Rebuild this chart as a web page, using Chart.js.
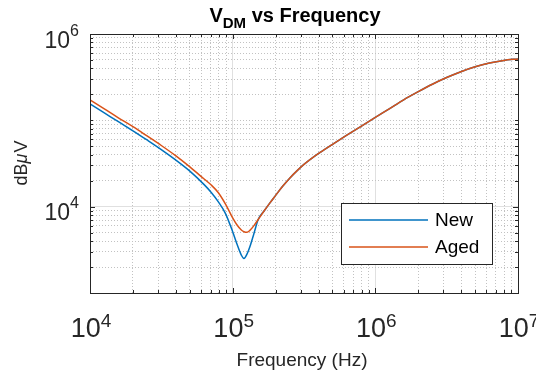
<!DOCTYPE html>
<html><head><meta charset="utf-8">
<script src="https://cdn.jsdelivr.net/npm/chart.js@4.4.1/dist/chart.umd.min.js"></script>
<style>html,body{margin:0;padding:0;background:#fff;}#wrap{width:536px;height:379px;position:relative;}</style>
</head><body><div id="wrap"><canvas id="c" width="536" height="379"></canvas></div>
<script>
// ---- data ----
const frequencies = [1e4, 1.26e4, 1.58e4, 2.0e4, 2.51e4, 3.16e4, 3.98e4, 5.01e4, 6.31e4, 7.08e4, 7.94e4, 8.91e4,
  1e5, 1.07e5, 1.15e5, 1.2e5, 1.26e5, 1.32e5, 1.41e5, 1.51e5, 1.66e5, 1.82e5, 2.0e5, 2.24e5, 2.51e5, 2.82e5, 3.16e5,
  3.98e5, 5.01e5, 6.31e5, 7.94e5, 1e6, 1.26e6, 1.58e6, 2.0e6, 2.51e6, 3.16e6, 3.98e6, 5.01e6, 6.31e6, 7.94e6, 1e7];
const newValues = [1.55e5, 1.22e5, 9.64e4, 7.57e4, 5.92e4, 4.58e4, 3.48e4, 2.58e4, 1.80e4, 1.46e4, 1.135e4, 8.32e3,
  5.13e3, 3.72e3, 2.75e3, 2.51e3, 2.82e3, 3.43e3, 4.90e3, 7.1e3, 8.91e3, 1.10e4, 1.35e4, 1.72e4, 2.14e4, 2.60e4, 3.09e4,
  4.12e4, 5.28e4, 6.73e4, 8.51e4, 1.08e5, 1.37e5, 1.73e5, 2.15e5, 2.62e5, 3.13e5, 3.66e5, 4.17e5, 4.61e5, 4.94e5, 5.15e5];
const agedValues = [1.73e5, 1.36e5, 1.07e5, 8.43e4, 6.59e4, 5.11e4, 3.90e4, 2.89e4, 2.09e4, 1.78e4, 1.45e4, 1.07e4,
  7.41e3, 6.17e3, 5.37e3, 5.13e3, 5.05e3, 5.31e3, 6.03e3, 7.1e3, 8.91e3, 1.10e4, 1.35e4, 1.72e4, 2.14e4, 2.60e4, 3.09e4,
  4.12e4, 5.28e4, 6.73e4, 8.51e4, 1.08e5, 1.37e5, 1.73e5, 2.15e5, 2.62e5, 3.13e5, 3.66e5, 4.17e5, 4.61e5, 4.94e5, 5.15e5];
const seriesNames = ['New', 'Aged'];
const xMajorTicks = [1e4, 1e5, 1e6, 1e7];
const xTickLabels = [['10','4'], ['10','5'], ['10','6'], ['10','7']];
const yMajorTicks = [1e4, 1e6];
const yTickLabels = [['10','4'], ['10','6']];
const xRange = [1e4, 1e7];
const yRange = [1e3, 1e6];
const titleParts = ['V', 'DM', ' vs Frequency'];
const xTitle = 'Frequency (Hz)';
const yTitleParts = ['dB', 'μ', 'V'];

const FONT = "'Liberation Sans', Arial, sans-serif";
const BLUE = '#0072BD', ORANGE = '#D95319', AX = '#262626';

function logPositions(lo, hi) {
  const out = [];
  for (let e = Math.round(Math.log10(lo)); e < Math.round(Math.log10(hi)); e++)
    for (let k = 1; k < 10; k++) out.push(k * Math.pow(10, e));
  out.push(hi);
  return out;
}
const near = (a, b) => Math.abs(Math.log10(a) - Math.log10(b)) < 1e-6;
const isMajor = (v, list) => list.some(t => near(v, t));

const xPositions = logPositions(xRange[0], xRange[1]);
const yPositions = logPositions(yRange[0], yRange[1]);

function gridOpts(majors) {
  return {
    color: c => (c.tick && isMajor(c.tick.value, majors)) ? '#e0e0e0' : '#c2c2c2',
    lineWidth: 1,
    drawTicks: false
  };
}
function borderOpts(majors) {
  return {
    display: false,
    dash: c => (c.tick && !isMajor(c.tick.value, majors)) ? [1, 2] : []
  };
}

function drawPow(ctx, base, exp, x, yBase, yExp, fb, fe, align) {
  ctx.font = fb; const wb = ctx.measureText(base).width;
  ctx.font = fe; const we = ctx.measureText(exp).width;
  const sx = align === 'center' ? x - (wb + we) / 2 : x - wb - we;
  ctx.textAlign = 'left'; ctx.textBaseline = 'alphabetic';
  ctx.font = fb; ctx.fillText(base, sx, yBase);
  ctx.font = fe; ctx.fillText(exp, sx + wb, yExp);
}

const decor = {
  id: 'decor',
  afterDraw(chart) {
    const {ctx, chartArea: a, scales: {x, y}} = chart;
    ctx.save();
    // box
    ctx.strokeStyle = AX; ctx.lineWidth = 1; ctx.setLineDash([]);
    ctx.strokeRect(a.left + 0.5, a.top + 0.5, a.right - a.left, a.bottom - a.top);
    // tick marks
    ctx.beginPath();
    xPositions.forEach(v => {
      const px = Math.round(x.getPixelForValue(v)) + 0.5;
      const L = isMajor(v, xMajorTicks) ? 5 : 3;
      ctx.moveTo(px, a.bottom); ctx.lineTo(px, a.bottom - L);
      ctx.moveTo(px, a.top); ctx.lineTo(px, a.top + L);
    });
    yPositions.forEach(v => {
      const py = Math.round(y.getPixelForValue(v)) + 0.5;
      const L = isMajor(v, yMajorTicks) ? 5 : 3;
      ctx.moveTo(a.left, py); ctx.lineTo(a.left + L, py);
      ctx.moveTo(a.right, py); ctx.lineTo(a.right - L, py);
    });
    ctx.stroke();
    // tick labels
    ctx.fillStyle = AX;
    xMajorTicks.forEach((v, i) => {
      const px = x.getPixelForValue(v);
      drawPow(ctx, xTickLabels[i][0], xTickLabels[i][1], px + 1, a.bottom + 44, a.bottom + 34,
        '27px ' + FONT, '19px ' + FONT, 'center');
    });
    yMajorTicks.forEach((v, i) => {
      const py = y.getPixelForValue(v);
      drawPow(ctx, yTickLabels[i][0], yTickLabels[i][1], a.left - 11, py + 13.5, py + 1.5,
        '23px ' + FONT, '16px ' + FONT, 'right');
    });
    // axis titles
    ctx.font = '19px ' + FONT; ctx.textAlign = 'center'; ctx.textBaseline = 'alphabetic';
    ctx.fillText(xTitle, 302, 366);
    ctx.save();
    ctx.translate(27, (a.top + a.bottom) / 2);
    ctx.rotate(-Math.PI / 2);
    const fN = '18px ' + FONT, fI = 'italic 18px ' + FONT;
    ctx.font = fN; const ya = ctx.measureText(yTitleParts[0]).width, yc = ctx.measureText(yTitleParts[2]).width;
    ctx.font = fI; const yb = ctx.measureText(yTitleParts[1]).width;
    const sx = -(ya + yb + yc) / 2;
    ctx.textAlign = 'left';
    ctx.font = fN; ctx.fillText(yTitleParts[0], sx, 0);
    ctx.font = fI; ctx.fillText(yTitleParts[1], sx + ya, 0);
    ctx.font = fN; ctx.fillText(yTitleParts[2], sx + ya + yb + 1, 0);
    ctx.restore();
    // title
    ctx.fillStyle = '#000';
    const f1 = 'bold 20px ' + FONT, f2 = 'bold 15px ' + FONT;
    ctx.font = f1; const w1 = ctx.measureText(titleParts[0]).width, w3 = ctx.measureText(titleParts[2]).width;
    ctx.font = f2; const w2 = ctx.measureText(titleParts[1]).width;
    const tx = 295 - (w1 + w2 + w3) / 2;
    ctx.textAlign = 'left';
    ctx.font = f1; ctx.fillText(titleParts[0], tx, 21.5);
    ctx.font = f2; ctx.fillText(titleParts[1], tx + w1, 28);
    ctx.font = f1; ctx.fillText(titleParts[2], tx + w1 + w2, 21.5);
    // legend
    const lx = 341, ly = 203, lw = 151, lh = 61;
    ctx.fillStyle = '#fff'; ctx.fillRect(lx, ly, lw, lh);
    ctx.strokeStyle = AX; ctx.lineWidth = 1;
    ctx.strokeRect(lx + 0.5, ly + 0.5, lw, lh);
    chart.data.datasets.forEach((ds, i) => {
      const yy = 220 + i * 27;
      ctx.strokeStyle = ds.borderColor; ctx.lineWidth = 1.5;
      ctx.beginPath(); ctx.moveTo(349, yy); ctx.lineTo(428, yy); ctx.stroke();
      ctx.fillStyle = '#000'; ctx.font = '19px ' + FONT; ctx.textBaseline = 'middle';
      ctx.fillText(ds.label, 435, yy + 1);
    });
    ctx.restore();
  }
};

const toPts = vals => frequencies.map((f, i) => ({x: f, y: vals[i]}));

new Chart(document.getElementById('c'), {
  type: 'line',
  data: {
    datasets: [
      {label: seriesNames[0], data: toPts(newValues), borderColor: BLUE, borderWidth: 1.5, pointRadius: 0, cubicInterpolationMode: 'monotone', fill: false, order: 2},
      {label: seriesNames[1], data: toPts(agedValues), borderColor: ORANGE, borderWidth: 1.5, pointRadius: 0, cubicInterpolationMode: 'monotone', fill: false, order: 1}
    ]
  },
  options: {
    responsive: false, animation: false, devicePixelRatio: 1,
    layout: {padding: {top: 34, right: 18, left: 0, bottom: 0}},
    plugins: {legend: {display: false}, tooltip: {enabled: false}, title: {display: false}},
    scales: {
      x: {
        type: 'logarithmic', min: xRange[0], max: xRange[1],
        afterBuildTicks: s => { s.ticks = xPositions.map(v => ({value: v, major: isMajor(v, xMajorTicks)})); },
        afterFit: s => { s.height = 86; },
        ticks: {display: false},
        grid: gridOpts(xMajorTicks), border: borderOpts(xMajorTicks)
      },
      y: {
        type: 'logarithmic', min: yRange[0], max: yRange[1],
        afterBuildTicks: s => { s.ticks = yPositions.map(v => ({value: v, major: isMajor(v, yMajorTicks)})); },
        afterFit: s => { s.width = 90; },
        ticks: {display: false},
        grid: gridOpts(yMajorTicks), border: borderOpts(yMajorTicks)
      }
    }
  },
  plugins: [decor]
});
</script></body></html>
